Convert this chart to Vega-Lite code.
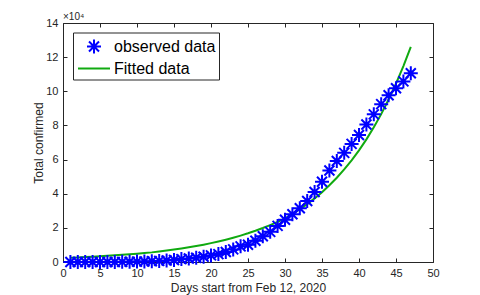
{
  "$schema": "https://vega.github.io/schema/vega-lite/v6.json",
  "width": 370,
  "height": 239,
  "autosize": {"type": "none"},
  "padding": {"left": 63, "top": 23, "right": 47, "bottom": 33},
  "background": "white",
  "title": {"text": "×10⁴", "anchor": "start", "frame": "group", "fontSize": 10, "fontWeight": "normal", "font": "Liberation Sans", "color": "#262626", "baseline": "alphabetic", "offset": 3, "dy": 16},
  "datasets": {
    "observed": [
      {"day": 1, "value": 3, "series": "observed data"},
      {"day": 2, "value": 3, "series": "observed data"},
      {"day": 3, "value": 3, "series": "observed data"},
      {"day": 4, "value": 3, "series": "observed data"},
      {"day": 5, "value": 3, "series": "observed data"},
      {"day": 6, "value": 3, "series": "observed data"},
      {"day": 7, "value": 20, "series": "observed data"},
      {"day": 8, "value": 79, "series": "observed data"},
      {"day": 9, "value": 157, "series": "observed data"},
      {"day": 10, "value": 229, "series": "observed data"},
      {"day": 11, "value": 322, "series": "observed data"},
      {"day": 12, "value": 453, "series": "observed data"},
      {"day": 13, "value": 655, "series": "observed data"},
      {"day": 14, "value": 888, "series": "observed data"},
      {"day": 15, "value": 1128, "series": "observed data"},
      {"day": 16, "value": 1694, "series": "observed data"},
      {"day": 17, "value": 2036, "series": "observed data"},
      {"day": 18, "value": 2502, "series": "observed data"},
      {"day": 19, "value": 3089, "series": "observed data"},
      {"day": 20, "value": 3858, "series": "observed data"},
      {"day": 21, "value": 4636, "series": "observed data"},
      {"day": 22, "value": 5883, "series": "observed data"},
      {"day": 23, "value": 7375, "series": "observed data"},
      {"day": 24, "value": 9172, "series": "observed data"},
      {"day": 25, "value": 10149, "series": "observed data"},
      {"day": 26, "value": 12462, "series": "observed data"},
      {"day": 27, "value": 15113, "series": "observed data"},
      {"day": 28, "value": 17660, "series": "observed data"},
      {"day": 29, "value": 21157, "series": "observed data"},
      {"day": 30, "value": 24747, "series": "observed data"},
      {"day": 31, "value": 27980, "series": "observed data"},
      {"day": 32, "value": 31506, "series": "observed data"},
      {"day": 33, "value": 35713, "series": "observed data"},
      {"day": 34, "value": 41035, "series": "observed data"},
      {"day": 35, "value": 47021, "series": "observed data"},
      {"day": 36, "value": 53578, "series": "observed data"},
      {"day": 37, "value": 59138, "series": "observed data"},
      {"day": 38, "value": 63927, "series": "observed data"},
      {"day": 39, "value": 69176, "series": "observed data"},
      {"day": 40, "value": 74386, "series": "observed data"},
      {"day": 41, "value": 80589, "series": "observed data"},
      {"day": 42, "value": 86498, "series": "observed data"},
      {"day": 43, "value": 92472, "series": "observed data"},
      {"day": 44, "value": 97689, "series": "observed data"},
      {"day": 45, "value": 101739, "series": "observed data"},
      {"day": 46, "value": 105792, "series": "observed data"},
      {"day": 47, "value": 110574, "series": "observed data"}
    ],
    "fitted": [
      {"day": 1, "value": 2500},
      {"day": 2, "value": 2690},
      {"day": 3, "value": 2900},
      {"day": 4, "value": 3120},
      {"day": 5, "value": 3360},
      {"day": 6, "value": 3620},
      {"day": 7, "value": 3900},
      {"day": 8, "value": 4200},
      {"day": 9, "value": 4520},
      {"day": 10, "value": 4870},
      {"day": 11, "value": 5240},
      {"day": 12, "value": 5640},
      {"day": 13, "value": 6140},
      {"day": 14, "value": 6680},
      {"day": 15, "value": 7260},
      {"day": 16, "value": 7900},
      {"day": 17, "value": 8590},
      {"day": 18, "value": 9340},
      {"day": 19, "value": 10160},
      {"day": 20, "value": 11050},
      {"day": 21, "value": 12020},
      {"day": 22, "value": 13070},
      {"day": 23, "value": 14220},
      {"day": 24, "value": 15470},
      {"day": 25, "value": 16820},
      {"day": 26, "value": 18290},
      {"day": 27, "value": 19900},
      {"day": 28, "value": 21640},
      {"day": 29, "value": 23540},
      {"day": 30, "value": 25600},
      {"day": 31, "value": 28120},
      {"day": 32, "value": 30890},
      {"day": 33, "value": 33910},
      {"day": 34, "value": 37250},
      {"day": 35, "value": 40920},
      {"day": 36, "value": 44950},
      {"day": 37, "value": 49380},
      {"day": 38, "value": 54200},
      {"day": 39, "value": 59540},
      {"day": 40, "value": 65400},
      {"day": 41, "value": 71840},
      {"day": 42, "value": 78930},
      {"day": 43, "value": 86620},
      {"day": 44, "value": 95160},
      {"day": 45, "value": 104500},
      {"day": 46, "value": 114800},
      {"day": 47, "value": 126000}
    ]
  },
  "layer": [
    {
      "data": {"name": "fitted"},
      "mark": {"type": "line", "color": "#10aa10", "strokeWidth": 2},
      "encoding": {
        "x": {"field": "day", "type": "quantitative", "scale": {"domain": [0, 50], "nice": false},
          "axis": {"orient": "top", "labels": false, "title": null, "values": [0, 5, 10, 15, 20, 25, 30, 35, 40, 45, 50]}},
        "y": {"field": "value", "type": "quantitative", "scale": {"domain": [0, 140000], "nice": false},
          "axis": {"orient": "right", "labels": false, "title": null, "values": [0, 20000, 40000, 60000, 80000, 100000, 120000, 140000]}}
      }
    },
    {
      "data": {"name": "observed"},
      "mark": {"type": "point", "filled": false, "strokeWidth": 2, "size": 400, "opacity": 1},
      "encoding": {
        "x": {"field": "day", "type": "quantitative", "scale": {"domain": [0, 50], "nice": false},
          "axis": {"orient": "bottom", "title": "Days start from Feb 12, 2020", "values": [0, 5, 10, 15, 20, 25, 30, 35, 40, 45, 50], "titleX": 185, "titleY": 29.5, "titleBaseline": "alphabetic", "labelPadding": 9}},
        "y": {"field": "value", "type": "quantitative", "scale": {"domain": [0, 140000], "nice": false},
          "axis": {"orient": "left", "title": "Total confirmed", "values": [0, 20000, 40000, 60000, 80000, 100000, 120000, 140000], "labelExpr": "format(datum.value/10000, 'd')", "titleX": -21, "titleY": 119.5, "titleBaseline": "alphabetic", "labelPadding": 9}},
        "color": {"field": "series", "type": "nominal",
          "scale": {"domain": ["observed data", "Fitted data"], "range": ["#0000ff", "#10aa10"]},
          "legend": {"title": null}},
        "shape": {"field": "series", "type": "nominal",
          "scale": {"domain": ["observed data", "Fitted data"], "range": ["M-0.7,0L0.7,0M0,-0.7L0,0.7M-0.5,-0.5L0.5,0.5M-0.5,0.5L0.5,-0.5", "M-1.6,0L1.6,0"]},
          "legend": {"title": null}}
      }
    }
  ],
  "resolve": {"axis": {"x": "independent", "y": "independent"}},
  "config": {
    "view": {"stroke": null},
    "axis": {
      "grid": false,
      "domainColor": "#262626",
      "domainWidth": 1,
      "tickColor": "#262626",
      "tickWidth": 1,
      "tickSize": -4,
      "labelFont": "Liberation Sans",
      "labelFontSize": 11,
      "labelColor": "#262626",
      "labelPadding": 4,
      "labelFlush": false,
      "labelOverlap": false,
      "labelBound": false,
      "titleFont": "Liberation Sans",
      "titleFontSize": 12,
      "titleFontWeight": "normal",
      "titleColor": "#262626"
    },
    "legend": {
      "orient": "none",
      "legendX": 10,
      "legendY": 9.5,
      "direction": "vertical",
      "padding": 3,
      "symbolOffset": 7,
      "symbolSize": 400,
      "symbolStrokeWidth": 2,
      "rowPadding": 0,
      "labelOffset": 9,
      "labelFont": "Liberation Sans",
      "labelFontSize": 16,
      "labelColor": "#000000",
      "strokeColor": "#262626",
      "fillColor": "white",
      "labelLimit": 300
    }
  }
}
